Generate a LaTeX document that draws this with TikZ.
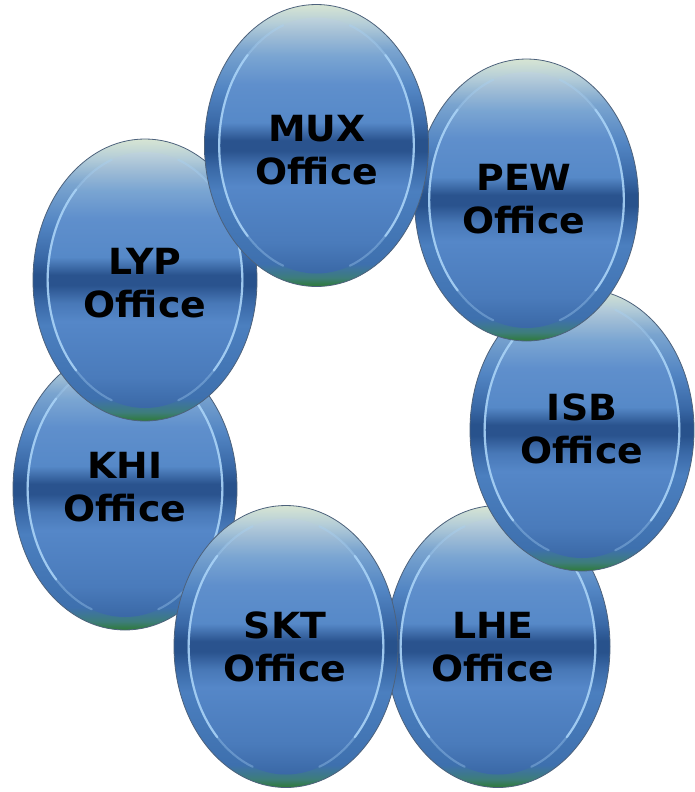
\documentclass[tikz,border=0pt]{standalone}
\usepackage{fontspec}
\setmainfont[FakeStretch=1.05]{DejaVu Sans}
\usetikzlibrary{shapes.geometric,calc}

% rim colours, bottom to top
\definecolor{rimA}{HTML}{2E7A36}
\definecolor{rimB}{HTML}{3D7D7A}
\definecolor{rimC}{HTML}{3E70AE}
\definecolor{rimD}{HTML}{4B7FBF}
\definecolor{rimE}{HTML}{3A69A7}
\definecolor{rimF}{HTML}{28528C}
\definecolor{rimG}{HTML}{5285C3}
\definecolor{rimH}{HTML}{7AA4CF}
\definecolor{rimI}{HTML}{B3CCD8}
\definecolor{rimJ}{HTML}{D7E5D3}
% face colours, bottom to top
\definecolor{faceA}{HTML}{3A68A6}
\definecolor{faceB}{HTML}{4A7BBB}
\definecolor{faceC}{HTML}{5587C8}
\definecolor{faceD}{HTML}{4878B7}
\definecolor{faceE}{HTML}{2A538E}
\definecolor{faceF}{HTML}{5689C8}
\definecolor{faceG}{HTML}{5F8FCC}
\definecolor{faceH}{HTML}{7AA5D2}
\definecolor{faceI}{HTML}{A3BFD6}
\definecolor{faceJ}{HTML}{BFD3DC}
\definecolor{discline}{HTML}{4D627C}
\definecolor{discshine}{HTML}{A9D3F7}

\pgfdeclareverticalshading{discrim}{100bp}{%
  color(0bp)=(rimA); color(25bp)=(rimA); color(26.5bp)=(rimB);
  color(29bp)=(rimC); color(42bp)=(rimD); color(46bp)=(rimE);
  color(49bp)=(rimF); color(51bp)=(rimF); color(54bp)=(rimE);
  color(60bp)=(rimG); color(67bp)=(rimH); color(71.5bp)=(rimI);
  color(75bp)=(rimJ); color(100bp)=(rimJ)}

\pgfdeclareverticalshading{discface}{100bp}{%
  color(0bp)=(faceA); color(25bp)=(faceA); color(31bp)=(faceB);
  color(42bp)=(faceC); color(45.5bp)=(faceD); color(49bp)=(faceE);
  color(51bp)=(faceE); color(54.5bp)=(faceF); color(62bp)=(faceG);
  color(67.5bp)=(faceH); color(72bp)=(faceI); color(75bp)=(faceJ);
  color(100bp)=(faceJ)}

\tikzset{
  disc rim/.style={ellipse, inner sep=0pt, minimum width=168pt,
    minimum height=211.5pt, shade, shading=discrim,
    draw=discline, line width=0.6pt},
  disc face/.style={ellipse, inner sep=0pt, minimum width=146pt,
    minimum height=192pt, shade, shading=discface},
  disc shine/.style={draw=discshine, line width=1.6pt, line cap=round},
  disc label/.style={align=center, text=black, inner sep=0pt,
    font=\bfseries\fontsize{27}{32.3}\selectfont},
}

% bright bevel edge along the left and right of a face
\newcommand\discsides[1]{%
  \foreach \a/\b/\o in {110/250/0.35, 135/225/0.85, -70/70/0.35, -45/45/0.85}
    \draw[disc shine, opacity=\o] ($(#1)+(\a:73pt and 96pt)$)
      arc[start angle=\a, end angle=\b, x radius=73pt, y radius=96pt];
}

% one bevelled office disc: name, disc centre, label centre, code
\newcommand\officedisc[4]{%
  \node[disc rim] (#1) at (#2) {};
  \node[disc face] (#1-face) at (#1) {};
  \discsides{#1}
  \node[disc label] (#1-label) at (#3) {#4\\Office};
}

\begin{document}
\begin{tikzpicture}[x=0.75pt,y=-0.75pt]
  \useasboundingbox (0,0) rectangle (694,792);
  \officedisc{lhe}{498,646.5}{493,647}{LHE}
  \officedisc{isb}{582,430}{582,429}{ISB}
  \officedisc{pew}{526.5,200}{524,199}{PEW}
  \officedisc{khi}{125,489}{125,487}{KHI}
  \officedisc{skt}{286,646.5}{285,647}{SKT}
  \officedisc{lyp}{145,280}{145,283}{LYP}
  \officedisc{mux}{316.5,145.5}{317,150}{MUX}
\end{tikzpicture}
\end{document}
